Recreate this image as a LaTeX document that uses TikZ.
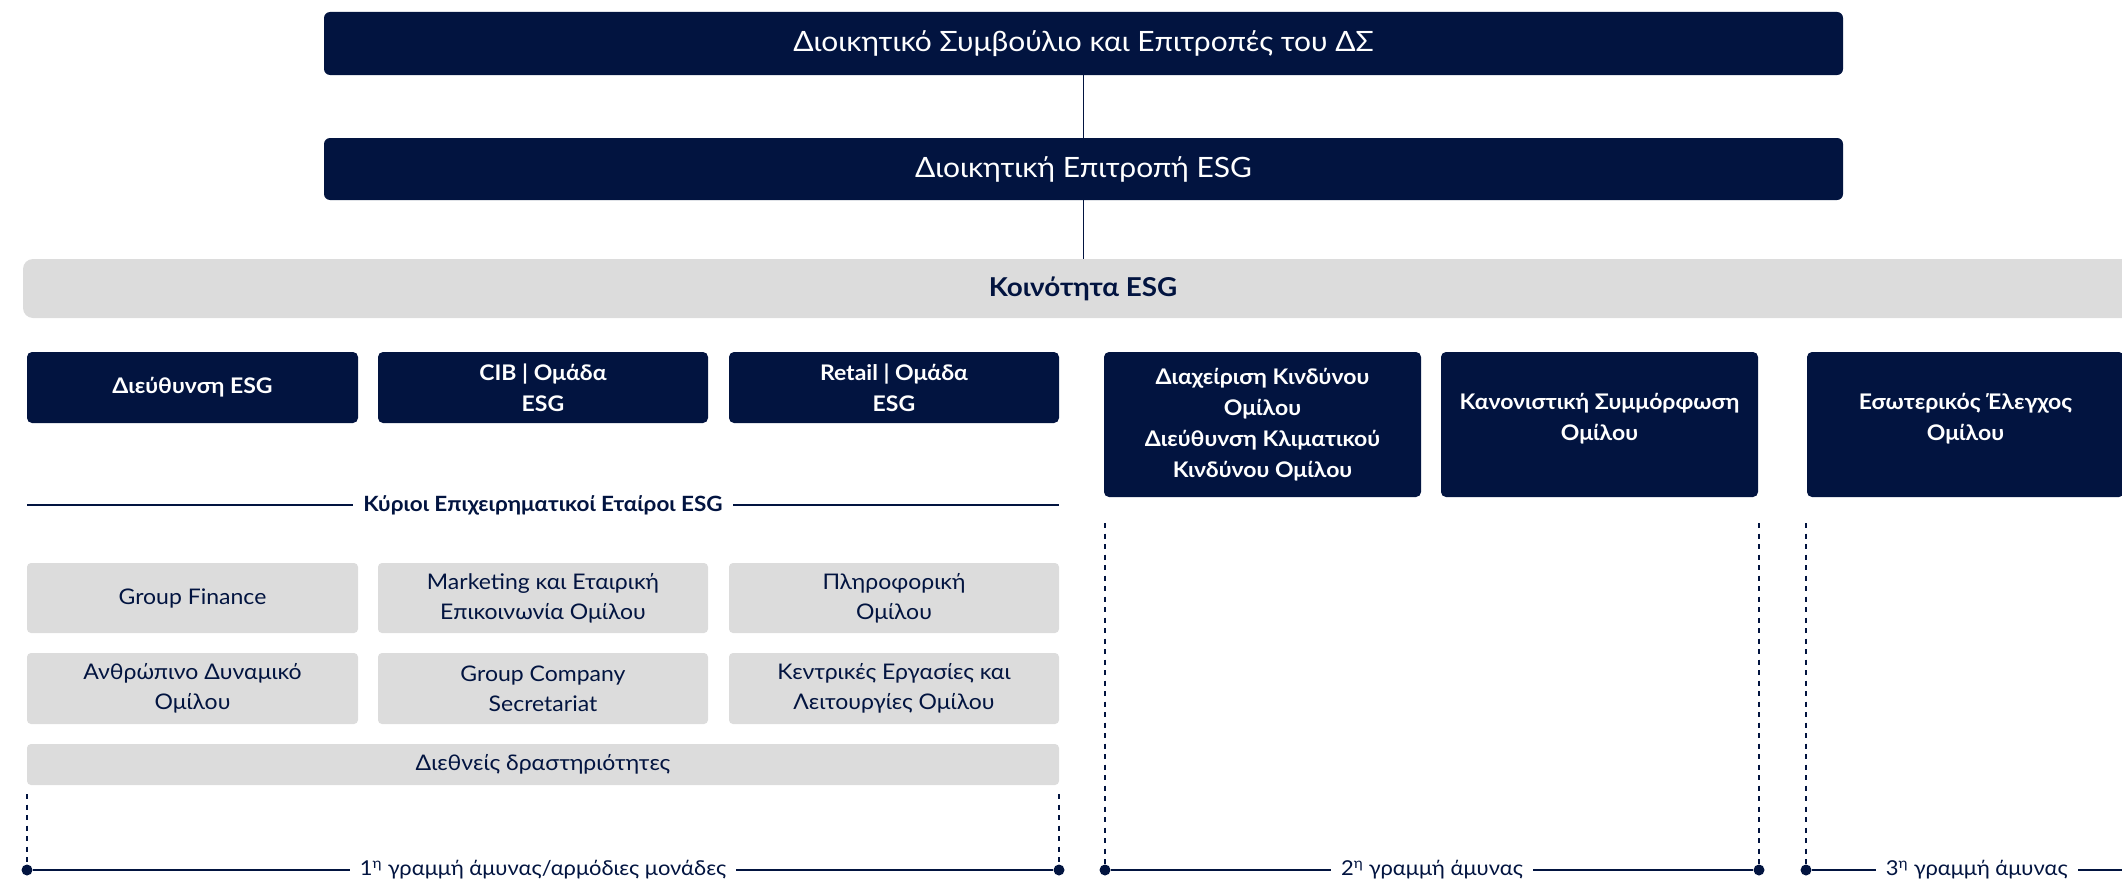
\documentclass[tikz,border=0pt]{standalone}
\usepackage{fontspec}
\setmainfont{Lato}[FakeStretch=1.07]
\definecolor{navy}{RGB}{2,20,64}
\definecolor{lgray}{RGB}{220,220,220}
\begin{document}
\begin{tikzpicture}[x=1pt,y=-1pt,
  darkbox/.style={fill=navy, rounded corners=5pt, text=white, align=center, inner sep=0pt,
    font=\fontsize{21.5}{31}\selectfont\bfseries},
  headbox/.style={fill=navy, rounded corners=6pt, text=white, align=center, inner sep=0pt,
    minimum width=1519pt, font=\fontsize{28}{32}\selectfont},
  barbox/.style={fill=lgray, rounded corners=10pt, text=navy, align=center, inner sep=0pt,
    font=\fontsize{26}{30}\selectfont\bfseries},
  graybox/.style={fill=lgray, rounded corners=4pt, text=navy, align=center, inner sep=0pt,
    font=\fontsize{21.5}{30}\selectfont},
  conn/.style={draw=navy, line width=1.6pt},
  dashv/.style={draw=navy, line width=1.6pt, dash pattern=on 5pt off 5.5pt},
  dot/.style={circle, fill=navy, inner sep=0pt, minimum size=11pt},
  lab/.style={fill=white, text=navy, inner xsep=10pt, inner ysep=3pt, font=\fontsize{20.5}{25}\selectfont},
  blab/.style={fill=white, text=navy, inner xsep=10pt, inner ysep=3pt, font=\fontsize{21}{25}\selectfont\bfseries}
]
\useasboundingbox (0,0) rectangle (2122,883);
\clip (0,0) rectangle (2122,883);

% top hierarchy
\node[headbox, minimum height=63pt] (board) at (1083.5,43.5) {Διοικητικό Συμβούλιο και Επιτροπές του ΔΣ};
\node[headbox, minimum height=62pt] (exec) at (1083.5,169) {Διοικητική Επιτροπή ESG};
\node[barbox, minimum width=2120pt, minimum height=59pt] (comm) at (1083,288.5) {Κοινότητα ESG};
\draw[conn] (board) -- (exec);
\draw[conn] (exec.south) -- (exec.south |- comm.north);

% first line dark boxes
\node[darkbox, minimum width=331pt, minimum height=71pt] (esgdir) at (192.5,387.5) {Διεύθυνση ESG};
\node[darkbox, minimum width=330pt, minimum height=71pt] (cib) at (543,387.5) {CIB | Ομάδα\\ESG};
\node[darkbox, minimum width=330pt, minimum height=71pt] (retail) at (894,387.5) {Retail | Ομάδα\\ESG};

% second / third line dark boxes
\node[darkbox, minimum width=317pt, minimum height=145pt] (risk) at (1262.5,424.5)
  {Διαχείριση Κινδύνου\\Ομίλου\\Διεύθυνση Κλιματικού\\Κινδύνου Ομίλου};
\node[darkbox, minimum width=317pt, minimum height=145pt] (compl) at (1599.5,424.5)
  {Κανονιστική Συμμόρφωση\\Ομίλου\rule[-15pt]{0pt}{1pt}};
\node[darkbox, minimum width=317pt, minimum height=145pt] (audit) at (1965.5,424.5)
  {Εσωτερικός Έλεγχος\\Ομίλου\rule[-15pt]{0pt}{1pt}};

% key partners line
\coordinate (k1) at (27,505);
\coordinate (k2) at (1059,505);
\draw[conn] (k1) -- (k2) node[blab, midway] (kp) {Κύριοι Επιχειρηματικοί Εταίροι ESG};

% gray boxes
\node[graybox, minimum width=331pt, minimum height=70pt] (fin) at (192.5,598) {Group Finance};
\node[graybox, minimum width=330pt, minimum height=70pt] (mkt) at (543,598) {Marketing και Εταιρική\\Επικοινωνία Ομίλου};
\node[graybox, minimum width=330pt, minimum height=70pt] (it) at (894,598) {Πληροφορική\\Ομίλου};
\node[graybox, minimum width=331pt, minimum height=71pt] (hr) at (192.5,688.5) {Ανθρώπινο Δυναμικό\\Ομίλου};
\node[graybox, minimum width=330pt, minimum height=71pt] (sec) at (543,688.5) {Group Company\\Secretariat};
\node[graybox, minimum width=330pt, minimum height=71pt] (ops) at (894,688.5) {Κεντρικές Εργασίες και\\Λειτουργίες Ομίλου};
\node[graybox, minimum width=1032pt, minimum height=41pt] (intl) at (543,764.5) {Διεθνείς δραστηριότητες};

% lines of defence
\node[dot] (d1) at (27,870) {};
\node[dot] (d2) at (1059,870) {};
\node[dot] (d3) at (1105,870) {};
\node[dot] (d4) at (1759,870) {};
\node[dot] (d5) at (1806,870) {};
\coordinate (e5) at (2142,870);

\coordinate (v1) at (27,794);
\coordinate (v2) at (1059,794);
\coordinate (v3) at (1105,523);
\coordinate (v4) at (1759,523);
\coordinate (v5) at (1806,523);
\draw[dashv] (v1) -- (d1.center);
\draw[dashv] (v2) -- (d2.center);
\draw[dashv] (v3) -- (d3.center);
\draw[dashv] (v4) -- (d4.center);
\draw[dashv] (v5) -- (d5.center);

\draw[conn] (d1) -- (d2) node[lab, midway] (l1) {1\textsuperscript{η} γραμμή άμυνας/αρμόδιες μονάδες};
\draw[conn] (d3) -- (d4) node[lab, midway] (l2) {2\textsuperscript{η} γραμμή άμυνας};
\draw[conn] (d5) -- (e5) node[lab, midway] (l3) {3\textsuperscript{η} γραμμή άμυνας};
\end{tikzpicture}
\end{document}
